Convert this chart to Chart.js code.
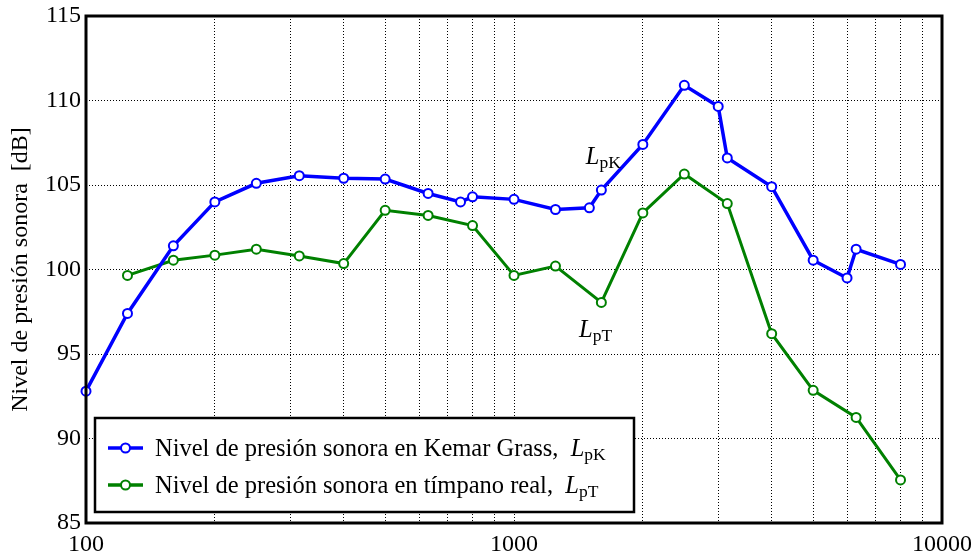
<!DOCTYPE html>
<html>
<head>
<meta charset="utf-8">
<script src="https://cdn.jsdelivr.net/npm/chart.js@4.4.1/dist/chart.umd.min.js"></script>
<style>
  html, body { margin: 0; padding: 0; background: #fff; }
  #wrap { width: 971px; height: 556px; }
</style>
</head>
<body>
<div id="wrap"><canvas id="splChart"></canvas></div>
<script>
// Frequencies [Hz] and levels [dB]
const freqKemar = [100, 125, 160, 200, 250, 315, 400, 500, 630, 750, 800, 1000, 1250, 1500, 1600, 2000, 2500, 3000, 3150, 4000, 5000, 6000, 6300, 8000];
const levelKemar = [92.8, 97.4, 101.4, 104.0, 105.1, 105.55, 105.4, 105.35, 104.5, 104.0, 104.3, 104.15, 103.55, 103.65, 104.7, 107.4, 110.9, 109.65, 106.6, 104.9, 100.55, 99.5, 101.2, 100.3];

const freqReal = [125, 160, 200, 250, 315, 400, 500, 630, 800, 1000, 1250, 1600, 2000, 2500, 3150, 4000, 5000, 6300, 8000];
const levelReal = [99.65, 100.55, 100.85, 101.2, 100.8, 100.35, 103.5, 103.2, 102.6, 99.65, 100.2, 98.05, 103.35, 105.65, 103.9, 96.2, 92.85, 91.25, 87.55];

// Axis ticks
const xGridTicks = [100, 200, 300, 400, 500, 600, 700, 800, 900, 1000, 2000, 3000, 4000, 5000, 6000, 7000, 8000, 9000, 10000];
const xTickLabels = [100, 1000, 10000];
const yTicks = [85, 90, 95, 100, 105, 110, 115];

const SERIF = '"Liberation Serif", "DejaVu Serif", serif';
const BLUE = '#0000ff';
const GREEN = '#008000';

function toPoints(xs, ys) {
    return xs.map((x, i) => ({ x: x, y: ys[i] }));
}

// L with subscript, e.g. L_pK
function drawSubLabel(ctx, x, y, sub) {
    ctx.font = 'italic 24.5px ' + SERIF;
    ctx.fillText('L', x, y);
    const w = ctx.measureText('L').width;
    ctx.font = '17.5px ' + SERIF;
    ctx.fillText(sub, x + w, y + 4);
}

const overlay = {
    id: 'overlay',
    afterDatasetsDraw(chart) {
        const { ctx, chartArea: a, scales } = chart;
        ctx.save();

        // axes frame
        ctx.strokeStyle = '#000';
        ctx.lineWidth = 3;
        ctx.strokeRect(a.left, a.top, a.right - a.left, a.bottom - a.top);

        // curve labels
        ctx.fillStyle = '#000';
        ctx.textBaseline = 'alphabetic';
        drawSubLabel(ctx, scales.x.getPixelForValue(1472), scales.y.getPixelForValue(106.25), 'pK');
        drawSubLabel(ctx, scales.x.getPixelForValue(1419), scales.y.getPixelForValue(96.0), 'pT');

        // legend box
        const bx = 95, by = 418, bw = 539, bh = 94;
        ctx.fillStyle = '#fff';
        ctx.fillRect(bx, by, bw, bh);
        ctx.strokeStyle = '#000';
        ctx.lineWidth = 2.5;
        ctx.strokeRect(bx, by, bw, bh);

        const entries = [
            { color: BLUE, text: 'Nivel de presión sonora en Kemar Grass,  ', sub: 'pK', y: 448 },
            { color: GREEN, text: 'Nivel de presión sonora en tímpano real,  ', sub: 'pT', y: 485 }
        ];
        entries.forEach(e => {
            ctx.strokeStyle = e.color;
            ctx.lineWidth = 3.5;
            ctx.beginPath();
            ctx.moveTo(108, e.y);
            ctx.lineTo(143, e.y);
            ctx.stroke();
            ctx.beginPath();
            ctx.arc(125.5, e.y, 4.5, 0, Math.PI * 2);
            ctx.fillStyle = '#fff';
            ctx.fill();
            ctx.lineWidth = 2;
            ctx.stroke();

            ctx.fillStyle = '#000';
            ctx.font = '24.5px ' + SERIF;
            ctx.fillText(e.text, 155, e.y + 8);
            const w = ctx.measureText(e.text).width;
            drawSubLabel(ctx, 155 + w, e.y + 8, e.sub);
        });

        ctx.restore();
    }
};

const ctx = document.getElementById('splChart');
new Chart(ctx, {
    type: 'line',
    data: {
        datasets: [{
            label: 'Nivel de presión sonora en Kemar Grass, LpK',
            data: toPoints(freqKemar, levelKemar),
            borderColor: BLUE,
            borderWidth: 3.5,
            pointRadius: 4.5,
            pointBorderWidth: 2,
            pointBackgroundColor: '#fff',
            pointBorderColor: BLUE,
            tension: 0,
            clip: false
        }, {
            label: 'Nivel de presión sonora en tímpano real, LpT',
            data: toPoints(freqReal, levelReal),
            borderColor: GREEN,
            borderWidth: 3,
            pointRadius: 4.5,
            pointBorderWidth: 2,
            pointBackgroundColor: '#fff',
            pointBorderColor: GREEN,
            tension: 0,
            clip: false
        }]
    },
    options: {
        responsive: true,
        maintainAspectRatio: false,
        animation: false,
        layout: { padding: { left: 0, right: 29, top: 16, bottom: 0 } },
        plugins: {
            legend: { display: false },
            tooltip: { enabled: false }
        },
        scales: {
            x: {
                type: 'logarithmic',
                min: 100,
                max: 10000,
                afterBuildTicks: scale => {
                    scale.ticks = xGridTicks.map(v => ({ value: v }));
                },
                afterFit: scale => {
                    scale.height = 33;
                    scale.paddingLeft = 0;
                    scale.paddingRight = 0;
                },
                grid: { color: '#000', lineWidth: 1, drawTicks: false },
                border: { display: false, dash: [1, 2] },
                ticks: {
                    autoSkip: false,
                    maxRotation: 0,
                    padding: 7,
                    color: '#000',
                    font: { family: SERIF, size: 24 },
                    callback: v => xTickLabels.includes(v) ? String(v) : ''
                }
            },
            y: {
                min: 85,
                max: 115,
                afterBuildTicks: scale => {
                    scale.ticks = yTicks.map(v => ({ value: v }));
                },
                afterFit: scale => {
                    scale.width = 86;
                    scale.paddingTop = 0;
                    scale.paddingBottom = 0;
                },
                grid: { color: '#000', lineWidth: 1, drawTicks: false },
                border: { display: false, dash: [1, 2] },
                ticks: {
                    padding: 5,
                    color: '#000',
                    font: { family: SERIF, size: 24 }
                },
                title: {
                    display: true,
                    text: 'Nivel de presión sonora  [dB]',
                    color: '#000',
                    font: { family: SERIF, size: 24 },
                    padding: { top: 6, bottom: 0 }
                }
            }
        }
    },
    plugins: [overlay]
});
</script>
</body>
</html>
